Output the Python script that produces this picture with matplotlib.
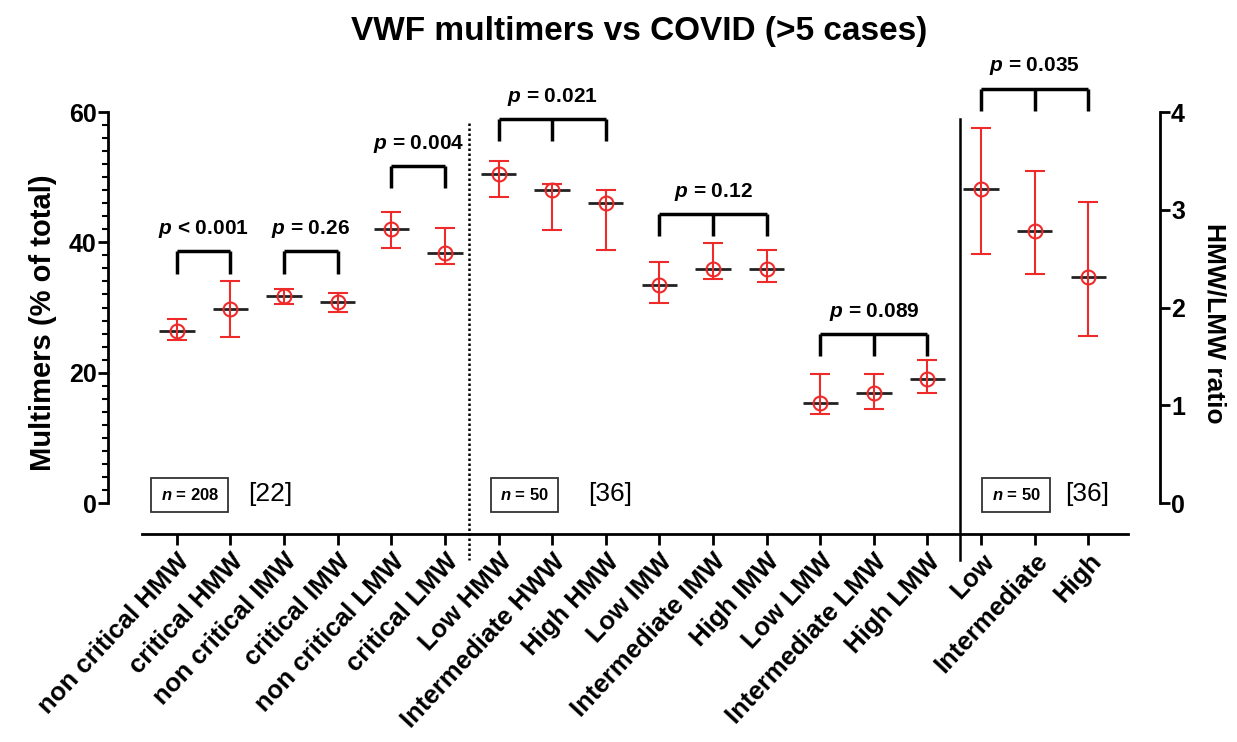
import numpy as np
import matplotlib
matplotlib.use("Agg")
import matplotlib.pyplot as plt

plt.rcParams['font.family'] = ['Liberation Sans', 'DejaVu Sans']
plt.rcParams['mathtext.fontset'] = 'custom'
plt.rcParams['mathtext.it'] = 'Liberation Sans:italic:bold'
plt.rcParams['mathtext.rm'] = 'Liberation Sans:bold'

# categories on the x axis
labels = ['non critical HMW', 'critical HMW', 'non critical IMW', 'critical IMW',
          'non critical LMW', 'critical LMW', 'Low HMW', 'Intermediate HWW',
          'High HMW', 'Low IMW', 'Intermediate IMW', 'High IMW', 'Low LMW',
          'Intermediate LMW', 'High LMW', 'Low', 'Intermediate', 'High']

# multimers (% of total), median with range
mult_mid = [26.4, 29.7, 31.8, 30.8, 42.0, 38.3, 50.5, 48.0, 46.0, 33.5, 35.9, 35.9, 15.4, 16.9, 19.0]
mult_lo = [25.0, 25.5, 30.5, 29.3, 39.1, 36.7, 46.9, 41.9, 38.9, 30.7, 34.4, 33.9, 13.7, 14.4, 16.9]
mult_hi = [28.3, 34.0, 32.8, 32.3, 44.7, 42.2, 52.5, 49.0, 48.0, 37.0, 39.9, 38.9, 19.8, 19.8, 21.9]

# HMW/LMW ratio
ratio_mid = [3.21, 2.78, 2.31]
ratio_lo = [2.55, 2.34, 1.71]
ratio_hi = [3.84, 3.40, 3.08]

# p value brackets: (category indices, p text)
brackets_left = [([0, 1], '< 0.001'), ([2, 3], '= 0.26'), ([4, 5], '= 0.004'),
                 ([6, 7, 8], '= 0.021'), ([9, 10, 11], '= 0.12'), ([12, 13, 14], '= 0.089')]
bracket_top = [38.6, 38.6, 51.7, 58.9, 44.4, 25.9]
bracket_right = ([15, 16, 17], '= 0.035')

n_text = ['208', '50', '50']
refs = ['[22]', '[36]', '[36]']

red = '#ee2a2a'

fig = plt.figure(figsize=(12.37, 7.42), dpi=100)
ax = fig.add_axes([142/1237, 208/742, 986/1237, 422/742])
ax2 = ax.twinx()

x = np.arange(len(labels))
xl = x[:15]
xr = x[15:]
half = 0.33

def draw(a, xs, mid, lo, hi):
    mid = np.array(mid); lo = np.array(lo); hi = np.array(hi)
    for xi, m in zip(xs, mid):
        a.plot([xi - half, xi + half], [m, m], color='#222222', lw=2, zorder=3, solid_capstyle='butt')
    a.errorbar(xs, mid, yerr=[mid - lo, hi - mid], fmt='o', mfc='none', mec=red,
               ms=10, mew=1.5, ecolor=red, elinewidth=1.5, capsize=7, capthick=1.5, zorder=4)

draw(ax, xl, mult_mid, mult_lo, mult_hi)
draw(ax2, xr, ratio_mid, ratio_lo, ratio_hi)

ax.set_xlim(-0.65, 17.74)
ax.set_ylim(-4.75, 60)
ax2.set_ylim(-4.75/15, 4)

# brackets
def bracket(a, idx, top, leg, txt, dy):
    a.plot([idx[0], idx[-1]], [top, top], color='k', lw=2.5, clip_on=False, solid_capstyle='butt')
    for i in idx:
        a.plot([i, i], [top, top - leg], color='k', lw=2.5, clip_on=False, solid_capstyle='butt')
    a.text(np.mean([idx[0], idx[-1]]), top + dy, r'$\mathit{p}$ ' + txt, ha='center', va='center',
           fontsize=15, fontweight='bold', clip_on=False)

for (idx, txt), top in zip(brackets_left, bracket_top):
    bracket(ax, idx, top, 3.4, txt, 3.4)
bracket(ax2, bracket_right[0], 4.24, 0.23, bracket_right[1], 0.23)

# separators
ax.plot([5.45, 5.45], [58.3, -8.7], color='k', lw=1.8, ls=(0, (1, 1)), clip_on=False)
ax.plot([14.6, 14.6], [59.0, -8.7], color='k', lw=1.8, clip_on=False)

# n boxes and references
for xb, xr_, n, r in zip([0.24, 6.49, 15.65], [1.75, 8.08, 16.98], n_text, refs):
    ax.text(xb, 1.2, r'$\mathit{n}$ = ' + n, ha='center', va='center', fontsize=12,
            fontweight='bold', bbox=dict(boxstyle='square,pad=0.55', fc='white', ec='#333333', lw=1.3))
    ax.text(xr_, 1.4, r, ha='center', va='center', fontsize=19)

# spines
for a in (ax, ax2):
    a.spines['top'].set_visible(False)
ax.spines['right'].set_visible(False)
ax2.spines['left'].set_visible(False)
ax2.spines['bottom'].set_visible(False)
ax.spines['left'].set_position(('outward', 24.5))
ax.spines['left'].set_bounds(0, 60)
ax2.spines['right'].set_position(('outward', 23))
ax2.spines['right'].set_bounds(0, 4)
for s in [ax.spines['left'], ax.spines['bottom'], ax2.spines['right']]:
    s.set_linewidth(2)

ax.set_yticks([0, 20, 40, 60])
ax.set_yticks(np.arange(0, 61, 2), minor=True)
ax.tick_params(axis='y', which='major', length=7, width=2, labelsize=18, pad=1)
ax.tick_params(axis='y', which='minor', length=4, width=1.5)
ax2.set_yticks([0, 1, 2, 3, 4])
ax2.tick_params(axis='y', length=7, width=2, labelsize=18, pad=1)
for t in ax.get_yticklabels() + ax2.get_yticklabels():
    t.set_fontweight('bold')

ax.set_xticks(x)
ax.set_xticklabels(labels, rotation=47, ha='right', rotation_mode='anchor',
                   fontsize=18.5, fontweight='bold')
ax.tick_params(axis='x', length=8, width=2, pad=3)

ax.set_ylabel('Multimers (% of total)', fontsize=21, fontweight='bold', labelpad=9)
ax2.set_ylabel('HMW/LMW ratio', fontsize=19, fontweight='bold', rotation=270, labelpad=30)

fig.text(0.517, 0.958, 'VWF multimers vs COVID (>5 cases)', ha='center', va='center',
         fontsize=24, fontweight='bold')

fig.savefig('out.png', dpi=100)
